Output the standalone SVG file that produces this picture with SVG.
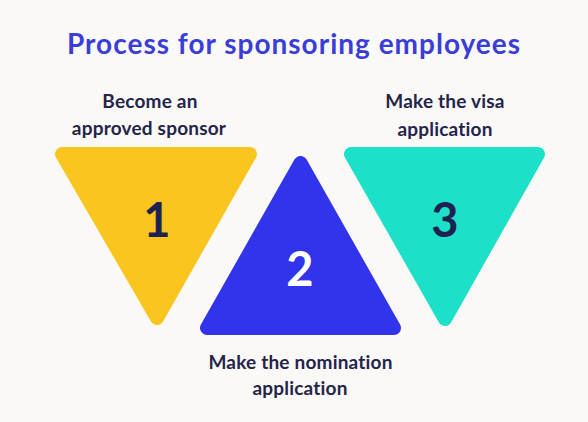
<svg xmlns="http://www.w3.org/2000/svg" width="588" height="422" viewBox="0 0 588 422">
<style>
.t{font-family:Lato,"Open Sans","Liberation Sans",sans-serif;text-anchor:middle}
.title{font-size:28px;font-weight:700;fill:#3a3ed8;letter-spacing:1px}
.lbl{font-size:19px;font-weight:700;fill:#24244a;letter-spacing:0.2px}
.num{font-size:47px;font-weight:700}
.tri{stroke-width:14;stroke-linejoin:round}
</style>
<rect width="588" height="422" fill="#faf9f8"/>
<text class="t title" x="294" y="54">Process for sponsoring employees</text>
<g id="step1">
<polygon class="tri" points="62,154 250,154 157,318" fill="#fbc51f" stroke="#fbc51f"/>
<text class="t num" x="157" y="237" fill="#1f2150">1</text>
<text class="t lbl" x="150" y="108">Become an</text>
<text class="t lbl" x="149" y="135">approved sponsor</text>
</g>
<g id="step2">
<polygon class="tri" points="300.5,163 207,328 394,328" fill="#3234ec" stroke="#3234ec"/>
<text class="t num" x="300" y="286" fill="#ffffff">2</text>
<text class="t lbl" x="300.5" y="369">Make the nomination</text>
<text class="t lbl" x="300" y="395">application</text>
</g>
<g id="step3">
<polygon class="tri" points="351,154 538,154 445,319" fill="#1de0c9" stroke="#1de0c9"/>
<text class="t num" x="445" y="237" fill="#1f2150">3</text>
<text class="t lbl" x="445" y="108">Make the visa</text>
<text class="t lbl" x="445" y="136">application</text>
</g>
</svg>
